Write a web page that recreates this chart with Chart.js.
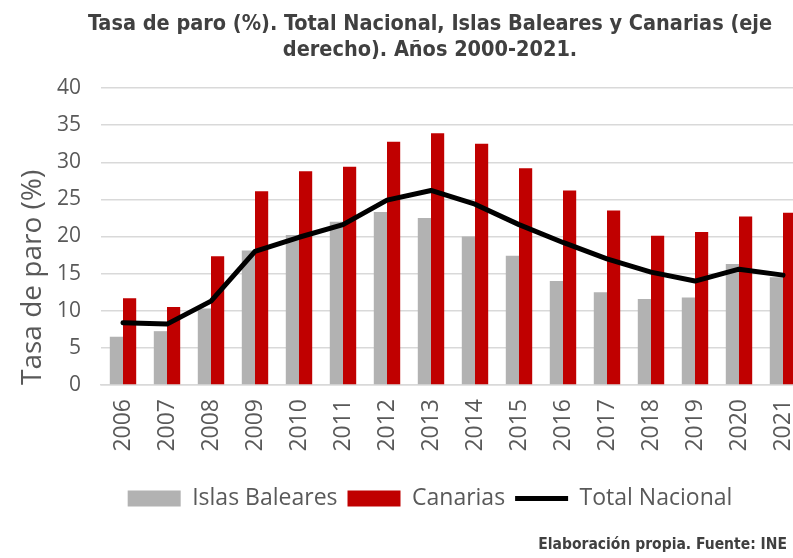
<!DOCTYPE html>
<html>
<head>
<meta charset="utf-8">
<script src="https://cdn.jsdelivr.net/npm/chart.js@4"></script>
<style>
  body { margin: 0; overflow: hidden; background: #fff; }
  #wrap { position: absolute; left: 0; top: 0; width: 860px; height: 558px; }
  #fuente {
    position: fixed; right: 6px; top: 535px;
    font: bold 15.5px "DejaVu Sans Condensed", "DejaVu Sans", sans-serif; color: #404040;
  }
</style>
</head>
<body>
<div id="wrap"><canvas id="myChart" width="860" height="558"></canvas></div>
<div id="fuente">Elaboración propia. Fuente: INE</div>
<script>
var years = ['2006','2007','2008','2009','2010','2011','2012','2013','2014','2015','2016','2017','2018','2019','2020','2021'];
var baleares = [6.5, 7.25, 10.3, 18.1, 20.2, 22.0, 23.3, 22.5, 20.0, 17.4, 14.0, 12.5, 11.6, 11.8, 16.3, 14.5];
var canarias = [11.7, 10.5, 17.35, 26.1, 28.8, 29.4, 32.75, 33.9, 32.5, 29.2, 26.2, 23.5, 20.1, 20.6, 22.7, 23.2];
var nacional = [8.4, 8.2, 11.3, 18.0, 19.9, 21.6, 24.9, 26.2, 24.35, 21.6, 19.2, 17.0, 15.2, 14.0, 15.6, 14.8];

var textColor = "#595959";
var axisFont = "'Open Sans', Lato, sans-serif";

new Chart("myChart", {
  type: "bar",
  data: {
    labels: years,
    datasets: [{
      label: "Islas Baleares",
      data: baleares,
      backgroundColor: "#b2b2b2",
      pointStyle: "rect",
      order: 1
    }, {
      label: "Canarias",
      data: canarias,
      backgroundColor: "#c00000",
      pointStyle: "rect",
      order: 1
    }, {
      type: "line",
      label: "Total Nacional",
      data: nacional,
      borderColor: "#000000",
      backgroundColor: "#000000",
      borderWidth: 5,
      borderJoinStyle: "round",
      borderCapStyle: "round",
      pointRadius: 0,
      pointStyle: "line",
      tension: 0,
      order: 0
    }]
  },
  options: {
    responsive: false,
    animation: false,
    layout: { padding: { bottom: 38 } },
    datasets: {
      bar: { categoryPercentage: 0.6, barPercentage: 1.0 }
    },
    plugins: {
      tooltip: { enabled: false },
      title: {
        display: true,
        text: ["Tasa de paro (%). Total Nacional, Islas Baleares y Canarias (eje", "derecho). Años 2000-2021."],
        color: "#404040",
        font: { family: "'DejaVu Sans Condensed', 'DejaVu Sans', sans-serif", size: 21.5, weight: "bold", lineHeight: 1.21 },
        padding: { top: 11, bottom: 25 }
      },
      legend: {
        position: "bottom",
        labels: {
          usePointStyle: true,
          pointStyleWidth: 53,
          boxHeight: 16,
          color: textColor,
          font: { family: axisFont, size: 23 },
          padding: 10,
          sort: function (a, b) { return a.datasetIndex - b.datasetIndex; }
        }
      }
    },
    scales: {
      x: {
        grid: { display: false, drawTicks: false },
        border: { color: "#d9d9d9", width: 1.5 },
        ticks: { color: textColor, font: { family: axisFont, size: 23 }, maxRotation: 90, minRotation: 90, padding: 14 },
        afterFit: function (scale) { scale.height = 92; }
      },
      y: {
        min: 0,
        max: 40,
        ticks: { stepSize: 5, color: textColor, font: { family: axisFont, size: 21 }, padding: 20 },
        grid: { color: "#d9d9d9", lineWidth: 1.5, drawTicks: false },
        border: { display: false },
        title: {
          display: true,
          text: "Tasa de paro (%)",
          align: "start",
          color: textColor,
          font: { family: axisFont, size: 28 },
          padding: { top: 16 }
        },
        afterFit: function (scale) { scale.width = 101; }
      },
      // empty right-hand space: the plot runs past the page edge like the original
      spacer: {
        position: "right",
        ticks: { display: false },
        grid: { display: false, drawTicks: false },
        border: { display: false },
        afterFit: function (scale) { scale.width = 55; }
      }
    }
  }
});
</script>
</body>
</html>
